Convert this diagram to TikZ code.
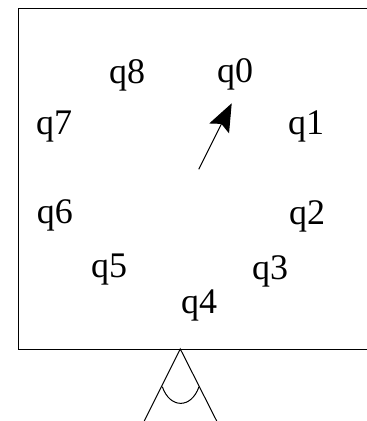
\documentclass[tikz,border=0pt]{standalone}
\usepackage{fontspec}
\setmainfont{Liberation Serif}
\usetikzlibrary{arrows.meta}

\begin{document}
\begin{tikzpicture}[x=1pt, y=-1pt, line width=1pt,
    state/.style={inner sep=0pt, font=\fontsize{36}{38}\selectfont},
    hand/.style={-{Stealth[length=28pt, width=22pt, inset=5pt]}}]
  \useasboundingbox (0,0) rectangle (367,421);
  \clip (0,0) rectangle (367,421);

  % the frame, open to the right
  \draw (390,8.3) -- (18.7,8.3) -- (18.7,349) -- (390,349);

  % nine states around the dial
  \foreach \i/\x/\y in {0/235/74, 1/306/126, 2/307/216, 3/270/271, 4/199/305,
                        5/109/270, 6/55/215, 7/54/127, 8/127/75} {
    \node[state] (q\i) at (\x,\y) {q\i};
  }

  % the pointer
  \coordinate (hub) at (198.7,169.3);
  \coordinate (tip) at (231.7,103.3);
  \draw[hand] (hub) -- (tip);

  % the observer below the frame
  \coordinate (eye) at (180.3,349);
  \coordinate (legL) at (144.3,421);
  \coordinate (legR) at (216.7,421);
  \coordinate (armL) at (162.3,386.7);
  \coordinate (armR) at (199,386.7);
  \draw (legL) -- (eye) -- (legR);
  \draw (armL) .. controls (170,408.9) and (191.3,408.9) .. (armR);
\end{tikzpicture}
\end{document}
